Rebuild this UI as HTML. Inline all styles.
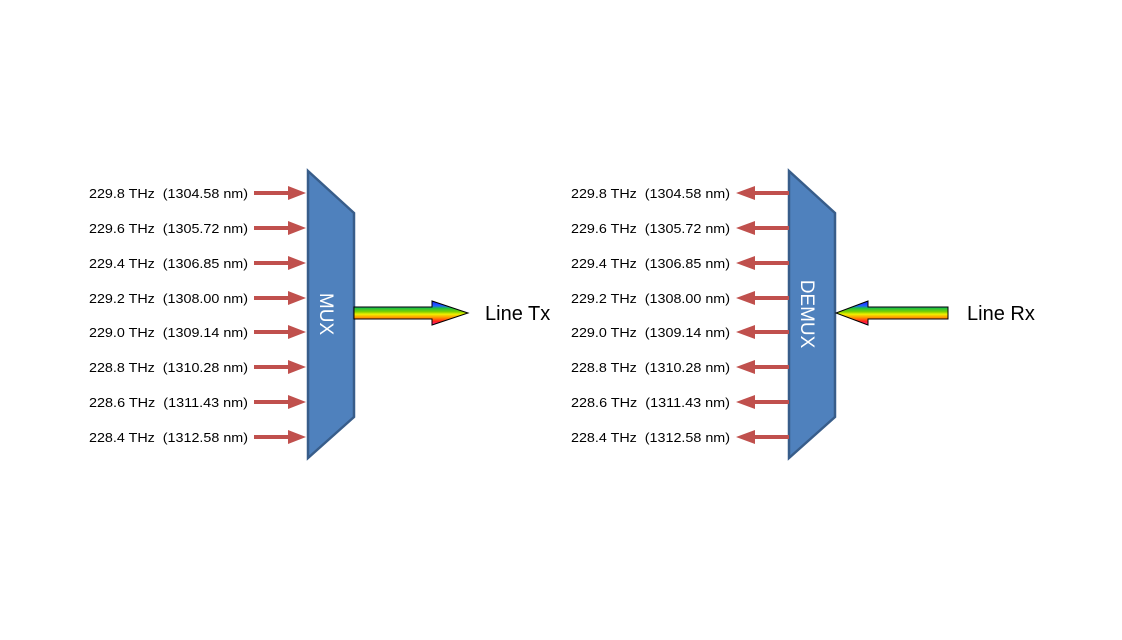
<!DOCTYPE html>
<html><head><meta charset="utf-8"><style>html,body{margin:0;padding:0;background:#fff}svg{display:block}</style></head>
<body>
<svg width="1122" height="640" viewBox="0 0 1122 640" xmlns="http://www.w3.org/2000/svg" font-family="Liberation Sans, sans-serif">
<defs>
<linearGradient id="rb" gradientUnits="userSpaceOnUse" x1="0" y1="301" x2="0" y2="325">
<stop offset="0" stop-color="#2020ff"/><stop offset="0.2" stop-color="#2060ff"/>
<stop offset="0.3" stop-color="#20c040"/><stop offset="0.45" stop-color="#80d000"/>
<stop offset="0.55" stop-color="#f0f000"/><stop offset="0.7" stop-color="#ff9000"/>
<stop offset="0.85" stop-color="#ff2020"/><stop offset="1" stop-color="#ff20a0"/>
</linearGradient>
</defs>
<polygon points="308,171 354,213 354,417 308,458" fill="#4f81bd" stroke="#385d8a" stroke-width="2.5"/>
<polygon points="789,171 835,213 835,417 789,458" fill="#4f81bd" stroke="#385d8a" stroke-width="2.5"/>
<text x="0" y="0" transform="translate(320,314) rotate(90)" fill="#fff" font-size="19" text-anchor="middle">MUX</text>
<text x="0" y="0" transform="translate(801,314) rotate(90)" fill="#fff" font-size="19" text-anchor="middle">DEMUX</text>
<polygon points="354,307 432,307 432,301 468,313 432,325 432,319 354,319" fill="url(#rb)" stroke="#000" stroke-width="1"/>
<polygon points="948,307 868,307 868,301 836,313 868,325 868,319 948,319" fill="url(#rb)" stroke="#000" stroke-width="1"/>
<text x="485" y="320" font-size="20">Line Tx</text>
<text x="967" y="320" font-size="20">Line Rx</text>
<g fill="#c0504d">
<path id="ra" d="M254,191 L288,191 L288,186 L306,193 L288,200 L288,195 L254,195 Z"/>
<use href="#ra" y="35"/><use href="#ra" y="70"/><use href="#ra" y="105"/><use href="#ra" y="139"/><use href="#ra" y="174"/><use href="#ra" y="209"/><use href="#ra" y="244"/>
<path id="la" d="M789,191 L755,191 L755,186 L736,193 L755,200 L755,195 L789,195 Z"/>
<use href="#la" y="35"/><use href="#la" y="70"/><use href="#la" y="105"/><use href="#la" y="139"/><use href="#la" y="174"/><use href="#la" y="209"/><use href="#la" y="244"/>
</g>
<g font-size="13" fill="#000">
<text x="89" y="198" textLength="159" lengthAdjust="spacingAndGlyphs">229.8 THz&#160; (1304.58 nm)</text>
<text x="89" y="233" textLength="159" lengthAdjust="spacingAndGlyphs">229.6 THz&#160; (1305.72 nm)</text>
<text x="89" y="268" textLength="159" lengthAdjust="spacingAndGlyphs">229.4 THz&#160; (1306.85 nm)</text>
<text x="89" y="303" textLength="159" lengthAdjust="spacingAndGlyphs">229.2 THz&#160; (1308.00 nm)</text>
<text x="89" y="337" textLength="159" lengthAdjust="spacingAndGlyphs">229.0 THz&#160; (1309.14 nm)</text>
<text x="89" y="372" textLength="159" lengthAdjust="spacingAndGlyphs">228.8 THz&#160; (1310.28 nm)</text>
<text x="89" y="407" textLength="159" lengthAdjust="spacingAndGlyphs">228.6 THz&#160; (1311.43 nm)</text>
<text x="89" y="442" textLength="159" lengthAdjust="spacingAndGlyphs">228.4 THz&#160; (1312.58 nm)</text>
<text x="571" y="198" textLength="159" lengthAdjust="spacingAndGlyphs">229.8 THz&#160; (1304.58 nm)</text>
<text x="571" y="233" textLength="159" lengthAdjust="spacingAndGlyphs">229.6 THz&#160; (1305.72 nm)</text>
<text x="571" y="268" textLength="159" lengthAdjust="spacingAndGlyphs">229.4 THz&#160; (1306.85 nm)</text>
<text x="571" y="303" textLength="159" lengthAdjust="spacingAndGlyphs">229.2 THz&#160; (1308.00 nm)</text>
<text x="571" y="337" textLength="159" lengthAdjust="spacingAndGlyphs">229.0 THz&#160; (1309.14 nm)</text>
<text x="571" y="372" textLength="159" lengthAdjust="spacingAndGlyphs">228.8 THz&#160; (1310.28 nm)</text>
<text x="571" y="407" textLength="159" lengthAdjust="spacingAndGlyphs">228.6 THz&#160; (1311.43 nm)</text>
<text x="571" y="442" textLength="159" lengthAdjust="spacingAndGlyphs">228.4 THz&#160; (1312.58 nm)</text>
</g>
</svg>
</body></html>
